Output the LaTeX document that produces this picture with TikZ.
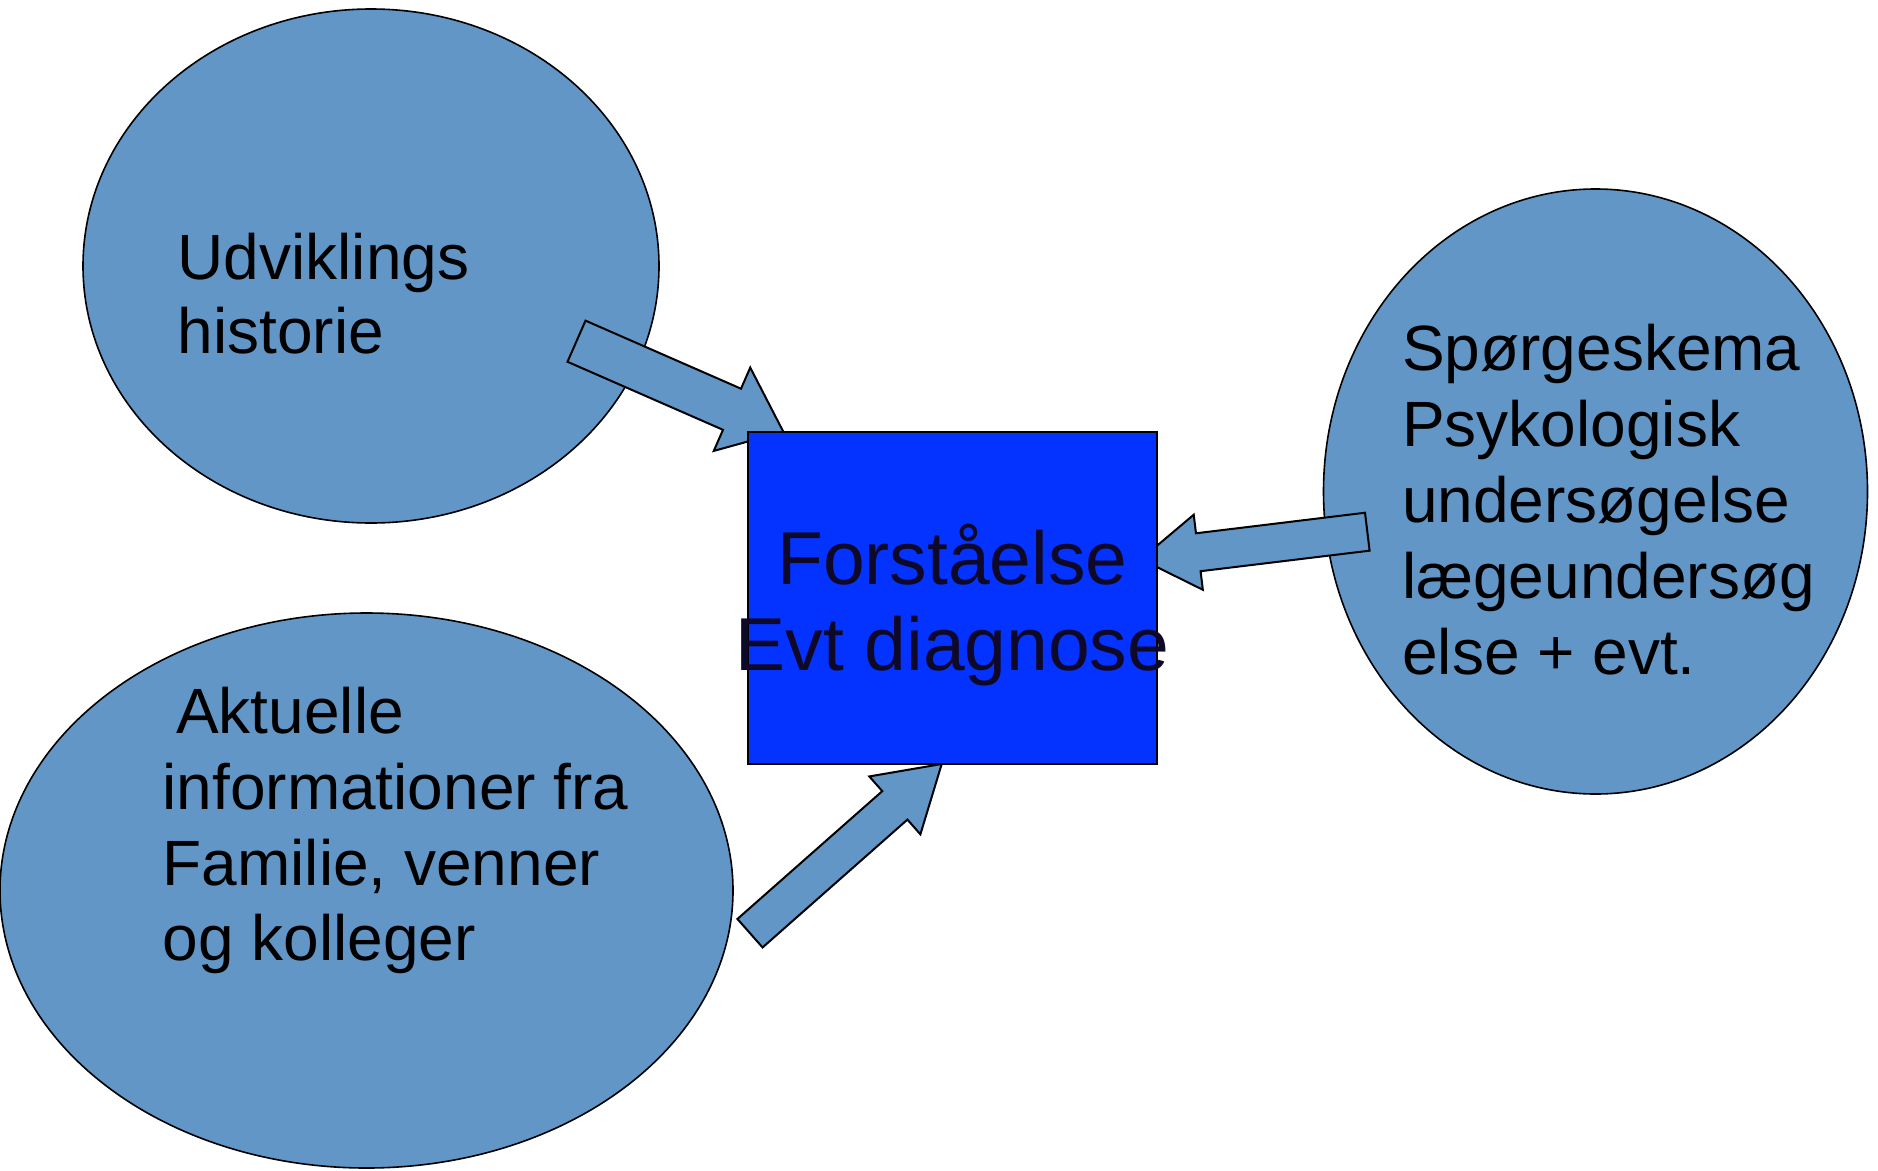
\documentclass[tikz,border=0pt]{standalone}
\usepackage{fontspec}
\setmainfont{Liberation Sans}
\usetikzlibrary{shapes.geometric,calc}
\definecolor{ellfill}{RGB}{97,150,199}
\definecolor{boxfill}{RGB}{4,51,255}
\definecolor{boxtext}{RGB}{14,9,40}
\tikzset{
  bubble/.style={ellipse, draw=black, line width=1.6pt, fill=ellfill, inner sep=0pt},
  centerbox/.style={rectangle, draw=black, line width=1.4pt, fill=boxfill, inner sep=0pt},
  bubbletext/.style={align=left, anchor=north west, inner sep=0pt, text=black},
  blockarrow/.style={draw=black, line width=2pt, fill=ellfill, line join=miter},
}
% #1 name, #2 tail, #3 tip, #4 half shaft width, #5 half head width, #6 head length
\newcommand{\blockarr}[6]{%
  \coordinate (#1-h) at ($(#3)!#6!(#2)$);
  \draw[blockarrow] ($(#2)!#4!90:(#3)$) -- ($(#1-h)!#4!90:(#3)$) -- ($(#1-h)!#5!90:(#3)$) -- (#3)
     -- ($(#1-h)!#5!-90:(#3)$) -- ($(#1-h)!#4!-90:(#3)$) -- ($(#2)!#4!-90:(#3)$) -- cycle;
}
\begin{document}
\begin{tikzpicture}[x=1pt,y=-1pt]
\useasboundingbox (0,0) rectangle (1878,1170);
\fill[white] (0,0) rectangle (1878,1170);

% bubbles
\node[bubble, minimum width=576pt, minimum height=514pt] (e1) at (371,266) {};
\node[bubble, minimum width=733pt, minimum height=555pt] (e2) at (366.5,890.5) {};
\node[bubble, minimum width=544pt, minimum height=605pt] (e3) at (1595.5,491.5) {};

% arrow end points
\coordinate (a1t) at (576.5,341.2);
\coordinate (a1p) at (783.3,431.7);
\coordinate (a2t) at (1367.3,531.7);
\coordinate (a2p) at (1141,559.2);
\coordinate (a3t) at (750,933.2);
\coordinate (a3p) at (941.7,764);

\blockarr{a1}{a1t}{a1p}{22.45pt}{45.5pt}{56pt}
\blockarr{a2}{a2t}{a2p}{19.1pt}{37.8pt}{57.7pt}
\blockarr{a3}{a3t}{a3p}{19pt}{38.6pt}{62.5pt}

% centre box
\node[centerbox, minimum width=409pt, minimum height=332pt] (box) at (952.5,598) {};
\node[align=center, anchor=north, inner sep=0pt, text=boxtext,
      font=\fontsize{75}{86.7}\selectfont] (boxlabel) at (952.5,522)
  {\rule{0pt}{62pt}Forståelse\\Evt diagnose};

% bubble texts
\node[bubbletext, font=\fontsize{64}{74.3}\selectfont] (t1) at (177.5,229)
  {\rule{0pt}{50pt}Udviklings\\historie};
\node[bubbletext, font=\fontsize{64}{75.8}\selectfont] (t2) at (162.4,683.3)
  {\rule{0pt}{50pt}\hspace*{13.6pt}Aktuelle\\informationer fra\\Familie, venner\\og kolleger};
\node[bubbletext, font=\fontsize{64}{76}\selectfont] (t3) at (1402,320)
  {\rule{0pt}{50pt}Spørgeskema\\Psykologisk\\undersøgelse\\lægeundersøg\\else + evt.};
\end{tikzpicture}
\end{document}
